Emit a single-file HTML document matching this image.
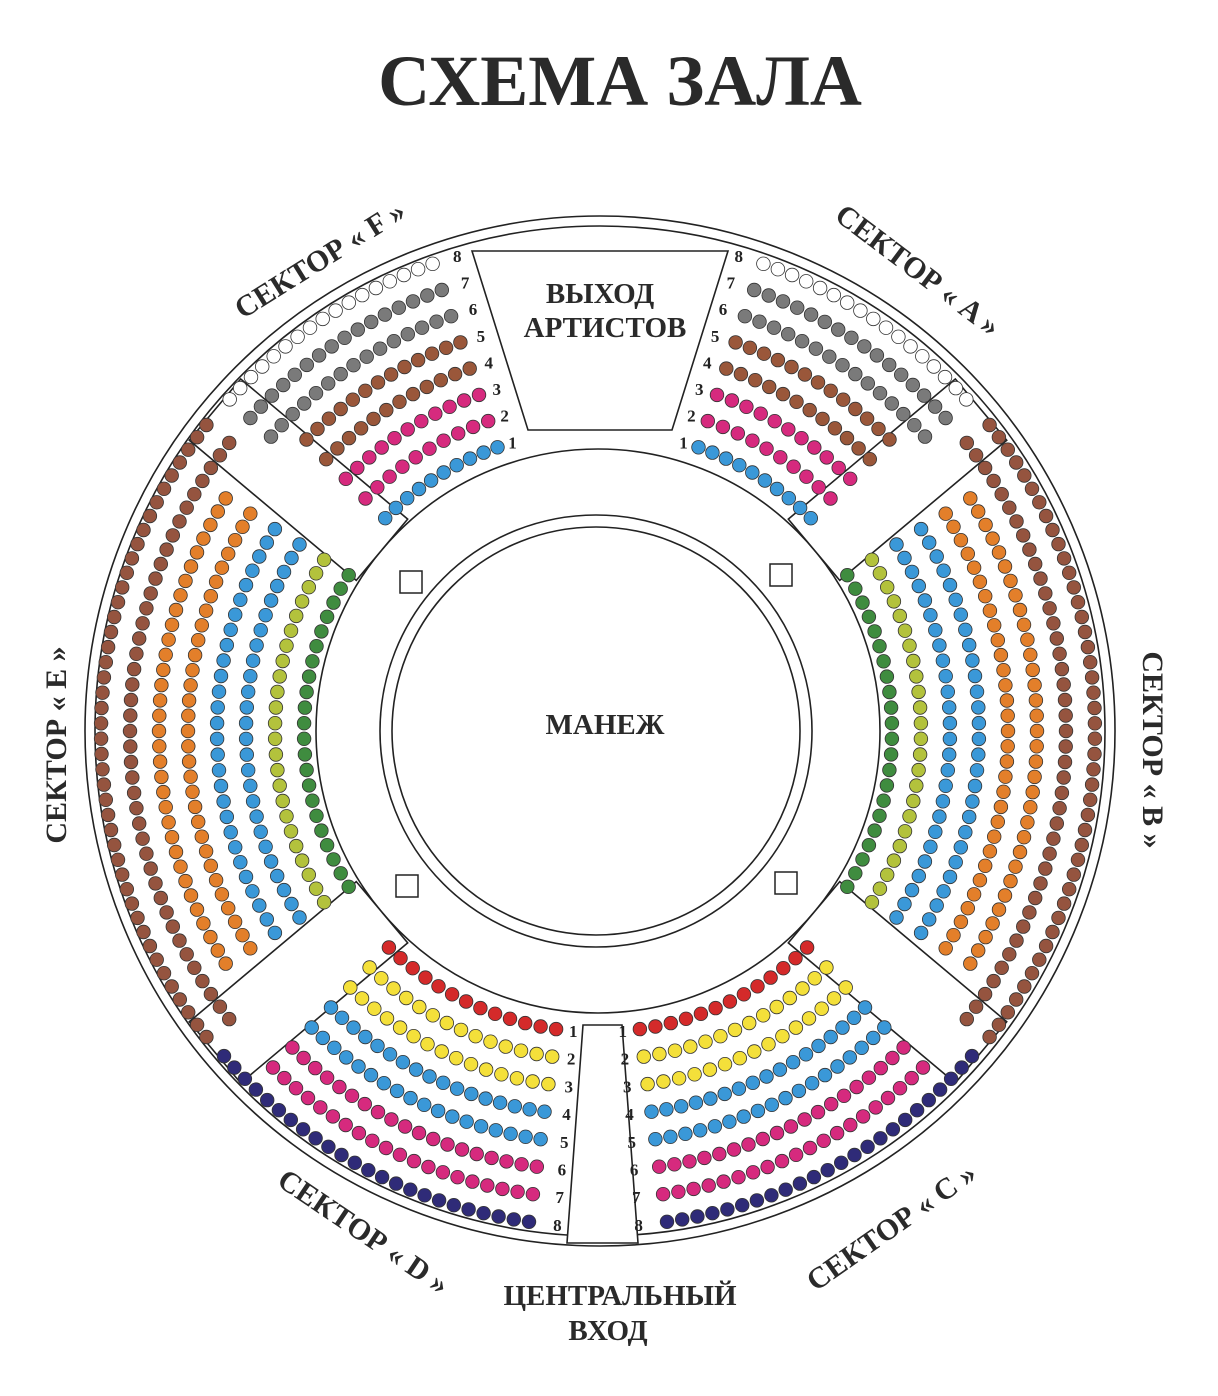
<!DOCTYPE html>
<html><head><meta charset="utf-8"><style>
html,body{margin:0;padding:0;background:#fff;}
svg{display:block;}
</style></head><body>
<svg id="s" width="1218" height="1396" viewBox="0 0 1218 1396" xmlns="http://www.w3.org/2000/svg" font-family="'Liberation Serif',serif">
<rect width="1218" height="1396" fill="#fff"/>
<text x="620" y="105" text-anchor="middle" font-size="72" font-weight="bold" fill="#2a2a2a">СХЕМА ЗАЛА</text>
<circle cx="600" cy="731" r="515" fill="none" stroke="#222" stroke-width="1.6"/>
<circle cx="600" cy="731" r="505" fill="none" stroke="#222" stroke-width="1.6"/>
<circle cx="598" cy="731" r="282" fill="none" stroke="#222" stroke-width="1.6"/>
<circle cx="596" cy="731" r="216" fill="none" stroke="#222" stroke-width="1.6"/>
<circle cx="596" cy="731" r="204" fill="none" stroke="#222" stroke-width="1.6"/>
<g id="aisles" fill="#fff" stroke="#222" stroke-width="1.6"></g>
<polygon points="472,251 728,251 672,430 528,430" fill="#fff" stroke="#222" stroke-width="1.6"/>
<polygon points="583,1025 622,1025 638,1243 567,1243" fill="#fff" stroke="#222" stroke-width="1.6"/>
<g fill="#fff" stroke="#222" stroke-width="1.5">
<rect x="400" y="571" width="22" height="22"/><rect x="770" y="564" width="22" height="22"/>
<rect x="396" y="875" width="22" height="22"/><rect x="775" y="872" width="22" height="22"/>
</g>
<g id="seats" stroke="#333" stroke-width="0.8"></g>
<g id="rownums" font-size="17" font-weight="bold" fill="#222" text-anchor="middle"></g>
<g font-weight="bold" fill="#2a2a2a" text-anchor="middle">
<text x="600" y="303" font-size="29">ВЫХОД</text>
<text x="605" y="337" font-size="29">АРТИСТОВ</text>
<text x="605" y="734" font-size="29">МАНЕЖ</text>
<text x="620" y="1305" font-size="29">ЦЕНТРАЛЬНЫЙ</text>
<text x="608" y="1340" font-size="29">ВХОД</text>
<text font-size="30" transform="translate(912,278) rotate(37)">СЕКТОР « A »</text>
<text font-size="30" transform="translate(325,268) rotate(-32)">СЕКТОР « F »</text>
<text font-size="30" transform="translate(1143,750) rotate(90)">СЕКТОР « B »</text>
<text font-size="30" transform="translate(66,745) rotate(-90)">СЕКТОР « E »</text>
<text font-size="30" transform="translate(897,1235) rotate(-35)">СЕКТОР « C »</text>
<text font-size="30" transform="translate(358,1240) rotate(34)">СЕКТОР « D »</text>
</g>
</svg>
<script>
var NS="http://www.w3.org/2000/svg",cx=598,cy=731;
function pt(r,t){t=t*Math.PI/180;return [cx+r*Math.sin(t),cy-r*Math.cos(t)];}
var ai=document.getElementById('aisles');
[50,130,230,310].forEach(function(a){
 var w=40;
 var d=function(r,off){var q=pt(r,a);var t=a*Math.PI/180;return [q[0]+off*Math.cos(t),q[1]+off*Math.sin(t)];};
 var p=[d(282,-w),d(282,w),d(500,w),d(500,-w)];
 var e=document.createElementNS(NS,'polygon');e.setAttribute('points',p.map(function(v){return v.join(',')}).join(' '));ai.appendChild(e);
});
var seats=document.getElementById('seats');
function row(r,a0,a1,col,gaps){
 var arc=(a1-a0)*Math.PI/180*r;var n=Math.max(1,Math.round(arc/15.5));
 for(var i=0;i<=n;i++){
  if(gaps&&gaps.indexOf(i)>=0)continue;
  var q=pt(r,a0+(a1-a0)*i/n);
  var c=document.createElementNS(NS,'circle');c.setAttribute('cx',q[0].toFixed(1));c.setAttribute('cy',q[1].toFixed(1));c.setAttribute('r',6.8);c.setAttribute('fill',col);seats.appendChild(c);}
}
var R=function(i){return 301+i*27.8;};
var cA=['#3a98d8','#d62a7e','#d62a7e','#9a573a','#9a573a','#7a7a7a','#7a7a7a','#fff'];
var cB=['#3f8c3f','#b3c23c','#3a98d8','#3a98d8','#e37f2a','#e37f2a','#95543f','#95543f'];
var cC=['#d42a2a','#f4e03a','#f4e03a','#3a98d8','#3a98d8','#d62a7e','#d62a7e','#2f2b78'];
for(var i=0;i<8;i++){
 var r=R(i);
 var e=i>=6?3:0;
 row(r,19.5,45+(i>4?3:0),cA[i]); row(r,-45-(i>4?3:0),-19.5,cA[i]);
 var rb=294+i*29;
 row(rb,58-e*2,122+e*2,cB[i]); row(rb,238-e*2,302+e*2,cB[i]);
 row(r,136-(i==7?5:0),172,cC[i]); row(r,188,224+(i==7?5:0),cC[i]);
}
var rn=document.getElementById('rownums');
function lab(r,t,s){var q=pt(r,t);var x=document.createElementNS(NS,'text');x.setAttribute('x',q[0].toFixed(1));x.setAttribute('y',(q[1]+6).toFixed(1));x.textContent=s;rn.appendChild(x);}
for(var i=0;i<8;i++){var r=R(i);lab(r,16.5,i+1);lab(r,-16.5,i+1);lab(r,175.3,i+1);lab(r,184.7,i+1);}
</script>
</body></html>
